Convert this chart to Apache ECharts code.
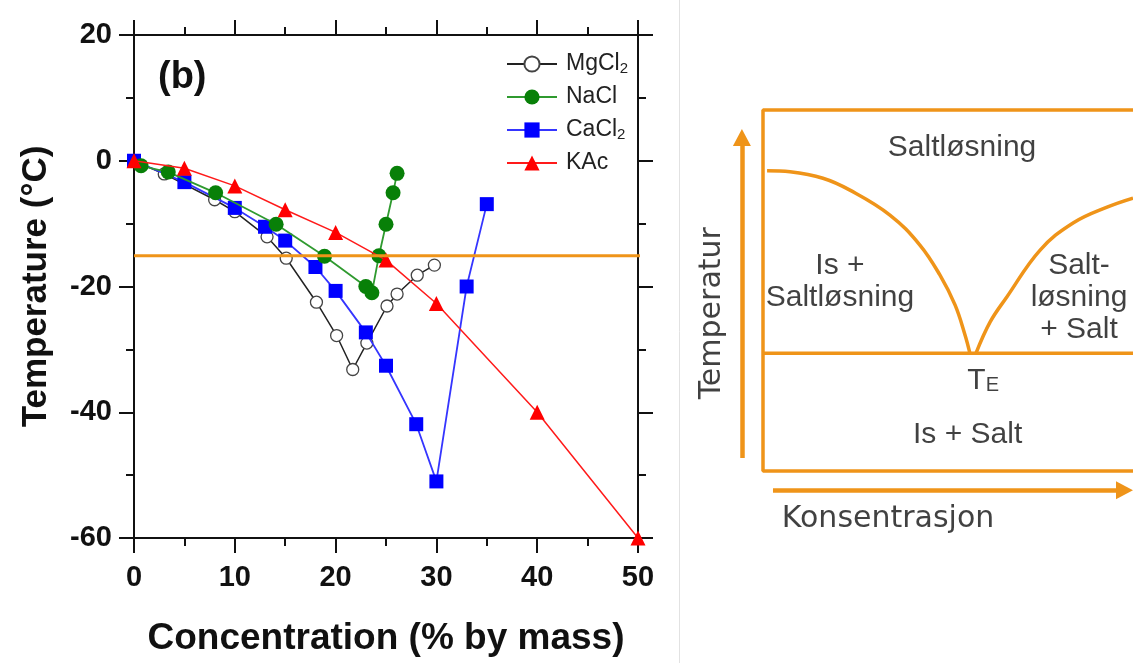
<!DOCTYPE html>
<html><head><meta charset="utf-8">
<script src="https://cdn.jsdelivr.net/npm/echarts@6/dist/echarts.min.js"></script>
<style>html,body{margin:0;padding:0;background:#fff}#c{width:1133px;height:663px}</style>
</head><body><div id="c"></div>
<script>
// ---------- left panel data (x: concentration % by mass, y: temperature °C) ----------
const seriesNames = ['MgCl2', 'NaCl', 'CaCl2', 'KAc'];
const mgcl2 = [[0,0],[3,-2.1],[8,-6.2],[10,-8.1],[13.2,-12.1],[15.1,-15.5],[18.1,-22.5],[20.1,-27.8],[21.7,-33.2],[23.1,-29],[25.1,-23.1],[26.1,-21.2],[28.1,-18.2],[29.8,-16.6]];
const nacl = [[0.7,-0.8],[3.4,-1.8],[8.1,-5.1],[14.1,-10.1],[18.9,-15.2],[23.0,-20.0],[23.6,-21.0],[24.3,-15.1],[25.0,-10.1],[25.7,-5.1],[26.1,-2.0]];
const cacl2 = [[0,0],[5,-3.4],[10,-7.5],[13,-10.5],[15,-12.7],[18,-16.9],[20,-20.7],[23,-27.3],[25,-32.6],[28,-41.9],[30,-51],[33,-20],[35,-6.9]];
const kac = [[0,0],[5,-1.2],[10,-4],[15,-7.8],[20,-11.4],[25,-15.8],[30,-22.7],[40,-40],[50,-60]];
const refLine = [[0,-15.1],[50.7,-15.1]];
const panelLabel = '(b)';
const xTitle = 'Concentration (% by mass)';
const yTitle = 'Temperature (°C)';

// ---------- right panel (schematic phase diagram, unit box 0..100) ----------
const phaseBox = [[100,100],[0,100],[0,0],[100,0]];
const eutectic = [[0,32.6],[100,32.6]];
const iceCurve = [[1.1,83.2],[7.3,82.9],[16.2,81.1],[23.5,77.8],[34.3,70.9],[42.4,62.6],[47.8,54.3],[51.9,46.0],[54.6,37.7],[55.9,32.7]];
const saltCurve = [[57.6,32.7],[61.4,41.3],[65.9,48.2],[74.9,61.2],[83.8,68.7],[93.0,73.1],[100,75.6]];
const tempArrow = [[-5.7,3.6],[-5.7,92.4]];
const concArrow = [[2.7,-5.3],[97.7,-5.3]];
const phaseLabels = [
  {name:'Saltløsning', value:[53.8,89.6]},
  {name:'Is +\nSaltløsning', value:[20.8,52.4]},
  {name:'Salt-\nløsning\n+ Salt', value:[85.4,48.0]},
  {name:'Is + Salt', value:[55.3,10.0]}
];
const teLabel = [{name:'TE', value:[59.5,25.0]}];
const phaseTitles = [
  {name:'Temperatur', value:[-13.8,43.7], rot:90},
  {name:'Konsentrasjon', value:[33.8,-13.4], rot:0}
];

const ORANGE = '#EF9419';
const chart = echarts.init(document.getElementById('c'), null, {renderer:'canvas'});

function frameAxis(pos, isX, show) {
  const base = {
    gridIndex: 0, type: 'value', position: pos,
    axisLine: {show: true, onZero: false, lineStyle: {color: '#111', width: 2}},
    axisTick: {show: true, inside: false, length: 15, lineStyle: {color: '#111', width: 2}},
    minorTick: {show: true, splitNumber: 2, length: 8, lineStyle: {color: '#111', width: 2}},
    splitLine: {show: false}, minorSplitLine: {show: false},
    axisLabel: {show: show, fontFamily: 'Liberation Sans', fontWeight: 'bold', fontSize: 29, color: '#111', margin: isX ? 25 : 22}
  };
  if (isX) { base.min = 0; base.max = 50; base.interval = 10; }
  else { base.min = -60; base.max = 20; base.interval = 20; }
  return base;
}

const xMain = frameAxis('bottom', true, true);
xMain.name = xTitle; xMain.nameLocation = 'middle'; xMain.nameGap = 82;
xMain.nameTextStyle = {fontFamily:'Liberation Sans', fontWeight:'bold', fontSize:37, color:'#111'};
const yMain = frameAxis('left', false, true);
yMain.name = yTitle; yMain.nameLocation = 'middle'; yMain.nameGap = 80;
yMain.nameTextStyle = {fontFamily:'Liberation Sans', fontWeight:'bold', fontSize:35, color:'#111'};

function dataSeries(name, data, symbol, size, itemStyle, lineStyle, z) {
  return {name, type:'line', xAxisIndex:0, yAxisIndex:0, data, symbol, symbolSize:size,
    itemStyle, lineStyle, z, clip:false, showSymbol:true};
}

const option = {
  animation: false,
  backgroundColor: '#fff',
  title: {text: panelLabel, left: 153, top: 54, textStyle: {fontFamily:'Liberation Sans', fontWeight:'bold', fontSize:38, color:'#111'}},
  legend: {
    data: seriesNames, orient: 'vertical', left: 506, top: 52, padding: 0,
    itemWidth: 50, itemHeight: 19, itemGap: 9, selectedMode: false,
    formatter: n => n.replace(/(\d)$/, '{sub|$1}'),
    textStyle: {fontFamily:'Liberation Sans', fontSize:23, color:'#222', lineHeight:24, padding:[0,0,0,4],
      rich: {sub: {fontFamily:'Liberation Sans', fontSize:15, lineHeight:10, verticalAlign:'bottom', color:'#222'}}}
  },
  grid: [
    {left: 134, top: 35, width: 504, height: 503},
    {left: 689, top: 110, width: 444, height: 415.15}
  ],
  xAxis: [xMain, frameAxis('top', true, false),
    {gridIndex:1, type:'value', min:-20, max:100, show:false}],
  yAxis: [yMain, frameAxis('right', false, false),
    {gridIndex:1, type:'value', min:-15, max:100, show:false}],
  graphic: [{type:'line', shape:{x1:679.5, y1:0, x2:679.5, y2:663}, style:{stroke:'#e2e2e2', lineWidth:1}, silent:true}],
  series: [
    dataSeries('MgCl2', mgcl2, 'circle', 12, {color:'#fff', borderColor:'#444', borderWidth:1.3}, {color:'#222', width:1.5}, 2),
    dataSeries('CaCl2', cacl2, 'rect', 14, {color:'#0000ff'}, {color:'#3535ff', width:1.8}, 3),
    dataSeries('NaCl', nacl, 'circle', 15, {color:'#088008'}, {color:'#2f9a2f', width:1.8}, 4),
    dataSeries('KAc', kac, 'triangle', 15, {color:'#ff0000'}, {color:'#ff1a1a', width:1.5}, 5),
    {name:'ref', type:'line', xAxisIndex:0, yAxisIndex:0, data: refLine, symbol:'none', clip:false,
      lineStyle:{color:ORANGE, width:3}, z:6, silent:true},
    // right schematic
    {name:'box', type:'line', xAxisIndex:2, yAxisIndex:2, data: phaseBox, symbol:'none', clip:false,
      lineStyle:{color:ORANGE, width:3.5}, silent:true},
    {name:'eut', type:'line', xAxisIndex:2, yAxisIndex:2, data: eutectic, symbol:'none', clip:false,
      lineStyle:{color:ORANGE, width:3.5}, silent:true,
      markLine: {silent:true, symbol:['none','triangle'], symbolSize:[18,17], label:{show:false},
        lineStyle:{color:ORANGE, width:4.5, type:'solid'},
        data: [[{coord: tempArrow[0]}, {coord: tempArrow[1]}], [{coord: concArrow[0]}, {coord: concArrow[1]}]]}},
    {name:'ice', type:'line', xAxisIndex:2, yAxisIndex:2, data: iceCurve, symbol:'none', smooth:0.4, clip:false,
      lineStyle:{color:ORANGE, width:3.5}, silent:true},
    {name:'salt', type:'line', xAxisIndex:2, yAxisIndex:2, data: saltCurve, symbol:'none', smooth:0.4, clip:false,
      lineStyle:{color:ORANGE, width:3.5}, silent:true},
    {name:'labels', type:'scatter', xAxisIndex:2, yAxisIndex:2, data: phaseLabels, symbolSize:0, silent:true, clip:false,
      label:{show:true, position:'inside', formatter: p => p.name, fontFamily:'Liberation Sans', fontSize:30, lineHeight:32, color:'#111', align:'center'}},
    {name:'te', type:'scatter', xAxisIndex:2, yAxisIndex:2, data: teLabel, symbolSize:0, silent:true, clip:false,
      label:{show:true, position:'inside', formatter: '{t|T}{e|E}',
        rich:{t:{fontFamily:'Liberation Sans', fontSize:30, color:'#111', lineHeight:30},
              e:{fontFamily:'Liberation Sans', fontSize:20, color:'#111', lineHeight:12, verticalAlign:'bottom'}}}},
    {name:'titles2', type:'scatter', xAxisIndex:2, yAxisIndex:2, symbolSize:0, silent:true, clip:false,
      data: phaseTitles.map(d => ({name:d.name, value:d.value, label:{rotate:d.rot}})),
      label:{show:true, position:'inside', formatter: p => p.name, fontFamily:'DejaVu Sans', fontSize:30, color:'#111'}}
  ]
};
chart.setOption(option);
</script>
</body></html>
